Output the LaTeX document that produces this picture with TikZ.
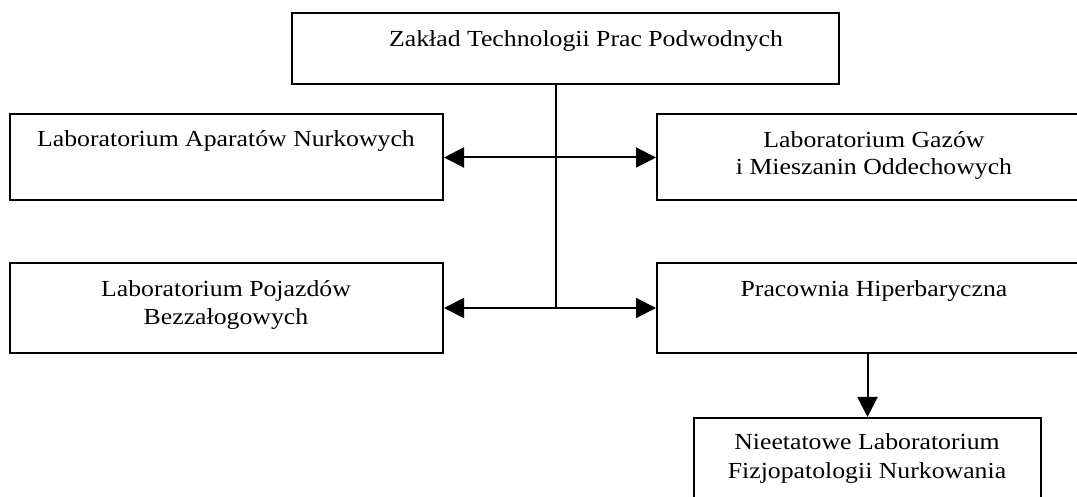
\documentclass[tikz,border=0pt]{standalone}
\usepackage{fontspec}
\setmainfont{Liberation Serif}[FakeStretch=1.12]
\usetikzlibrary{arrows.meta}
\tikzset{
  box/.style={draw=black, line width=1pt, fill=none, inner sep=0pt},
  txt/.style={anchor=base, inner sep=0pt, font=\fontsize{11.5pt}{13.5pt}\selectfont},
  link/.style={draw=black, line width=1pt},
  arr/.style={link, -{Triangle[length=10pt,width=10pt]}}
}
\begin{document}
\begin{tikzpicture}[x=0.5pt,y=-0.5pt]
\useasboundingbox (0,0) rectangle (1077,497);
\clip (0,0) rectangle (1077,497);
% boxes
\node[box, minimum width=273.5pt, minimum height=35.5pt] (top) at (565.5,48.5) {};
\node[box, minimum width=216.5pt, minimum height=43pt] (L1) at (226.5,157.5) {};
\node[box, minimum width=217pt, minimum height=43pt] (R1) at (874,157.5) {};
\node[box, minimum width=216.5pt, minimum height=45pt] (L2) at (226.5,308) {};
\node[box, minimum width=217pt, minimum height=45pt] (R2) at (874,308) {};
\node[box, minimum width=173.5pt, minimum height=45pt] (B) at (867.5,463) {};
% texts
\node[txt] (tTop) at (586,47) {Zakład Technologii Prac Podwodnych};
\node[txt] (tL1) at (226,147) {Laboratorium Aparatów Nurkowych};
\node[txt] (tR1a) at (874,148) {Laboratorium Gazów};
\node[txt] (tR1b) at (874,175) {i Mieszanin Oddechowych};
\node[txt] (tL2a) at (226,297) {Laboratorium Pojazdów};
\node[txt] (tL2b) at (226,325) {Bezzałogowych};
\node[txt] (tR2) at (874,297) {Pracownia Hiperbaryczna};
\node[txt] (tBa) at (867,450) {Nieetatowe Laboratorium};
\node[txt] (tBb) at (867,478) {Fizjopatologii Nurkowania};
% connectors
\coordinate (hub1) at (556,157.5);
\coordinate (hub2) at (556,308);
\draw[link] (top.south -| hub1) -- (hub2);
\draw[arr] (hub1) -- (L1.east);
\draw[arr] (hub1) -- (R1.west);
\draw[arr] (hub2) -- (L2.east);
\draw[arr] (hub2) -- (R2.west);
\draw[arr] (R2.south -| B.north) -- (B.north);
\end{tikzpicture}
\end{document}
